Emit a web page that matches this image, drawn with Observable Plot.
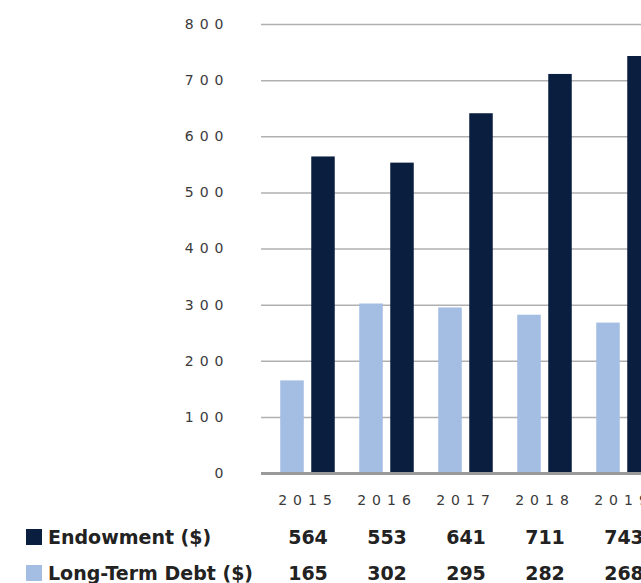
<!DOCTYPE html>
<html>
<head>
<meta charset="utf-8">
<script src="https://cdn.jsdelivr.net/npm/d3@7"></script>
<script src="https://cdn.jsdelivr.net/npm/@observablehq/plot@0.6"></script>
<style>
  html, body { margin: 0; padding: 0; background: #fff; overflow: hidden; }
  #wrap { position: relative; width: 641px; height: 583px; overflow: hidden; }
  #wrap svg { position: absolute; left: 0; top: 0; max-width: none !important; width: 670px !important; height: 583px !important; }
  .leg { position: absolute; left: 26px; display: flex; align-items: center;
         font: bold 19px/20px "DejaVu Sans", sans-serif; color: #222; height: 20px; white-space: nowrap; }
  .sw { width: 16px; height: 16px; margin-right: 6px; flex: none; }
  #wrap svg [aria-label^="y-axis"] text, #wrap svg [aria-label^="x-axis"] text { letter-spacing: 6px; }
</style>
</head>
<body>
<div id="wrap"></div>
<script>
const years = ["2015", "2016", "2017", "2018", "2019"];
const endowment = [564, 553, 641, 711, 743];
const longTermDebt = [165, 302, 295, 282, 268];
const seriesNames = ["Endowment ($)", "Long-Term Debt ($)"];
const seriesColors = ["#0a1e40", "#a3bde3"];
const yTicks = [0, 100, 200, 300, 400, 500, 600, 700, 800];

const endowData = years.map((year, i) => ({year, series: seriesNames[0], value: endowment[i]}));
const debtData = years.map((year, i) => ({year, series: seriesNames[1], value: longTermDebt[i]}));

const valueStyle = {fontFamily: "DejaVu Sans", fontSize: 19, fontWeight: "bold", fill: "#222"};

const chart = Plot.plot({
  width: 670,
  height: 583,
  marginTop: 24,
  marginBottom: 110,
  marginLeft: 261,
  marginRight: 0,
  style: {fontFamily: "DejaVu Sans", fontSize: "14px", color: "#3a3a3a", background: "transparent", overflow: "visible"},
  x: {domain: years, paddingInner: 0, paddingOuter: 0.07, tickSize: 0, tickPadding: 22, label: null},
  y: {domain: [0, 800], ticks: yTicks, tickSize: 0, tickPadding: 32, label: null, tickFormat: d => String(d)},
  marks: [
    Plot.ruleY(yTicks.filter(d => d > 0), {stroke: "#b0b0b0", strokeWidth: 1.5}),
    Plot.barY(debtData, {x: "year", y: "value", fill: seriesColors[1], insetLeft: 12.25, insetRight: 43.25}),
    Plot.barY(endowData, {x: "year", y: "value", fill: seriesColors[0], insetLeft: 43.25, insetRight: 12.25}),
    Plot.ruleY([0], {stroke: "#9a9a9a", strokeWidth: 3}),
    Plot.text(endowData, {x: "year", text: d => String(d.value), frameAnchor: "bottom", dy: 70, ...valueStyle}),
    Plot.text(debtData, {x: "year", text: d => String(d.value), frameAnchor: "bottom", dy: 106, ...valueStyle})
  ]
});

const wrap = document.getElementById("wrap");
wrap.appendChild(chart);

const legendTops = [527, 563];
seriesNames.forEach((name, i) => {
  const row = document.createElement("div");
  row.className = "leg";
  row.style.top = legendTops[i] + "px";
  const sw = document.createElement("span");
  sw.className = "sw";
  sw.style.background = seriesColors[i];
  row.appendChild(sw);
  row.appendChild(document.createTextNode(name));
  wrap.appendChild(row);
});
</script>
</body>
</html>
